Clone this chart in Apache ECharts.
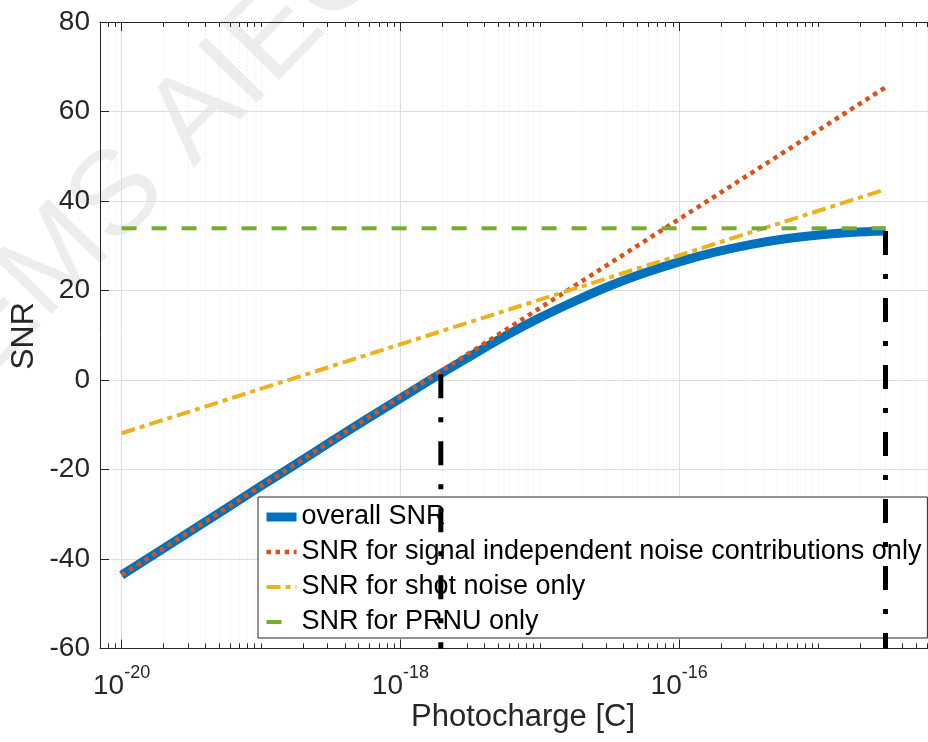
<!DOCTYPE html>
<html>
<head>
<meta charset="utf-8">
<script src="https://cdn.jsdelivr.net/npm/echarts@6/dist/echarts.min.js"></script>
<style>
  html, body { margin: 0; padding: 0; background: #fff; }
  #chart { width: 928px; height: 742px; }
</style>
</head>
<body>
<div id="chart"></div>
<script>
// photocharge is kept as log10 of the charge in coulombs
const logCharge = [-20, -19.5, -19, -18.75, -18.5, -18.25, -18, -17.75, -17.5, -17.25, -17,
  -16.75, -16.5, -16.25, -16, -15.75, -15.5, -15.25, -15, -14.75, -14.52];
const snrOverall = [-43.6, -33.7, -23.7, -18.8, -13.8, -8.9, -4.1, 0.7, 5.3, 9.8, 13.9,
  17.6, 21.0, 23.9, 26.4, 28.5, 30.2, 31.5, 32.4, 33.0, 33.3];

const lineCharge = [-20, -14.52];
const snrIndependent = [-43.6, 65.4];
const snrShot = [-11.9, 42.6];
const snrPrnu = [33.9, 33.9];

// black dash-dot markers (vertical lines)
const markerCharge = [-17.71, -14.52];
const markerTop = [1.3, 33.3];
const markerBottom = -60;

const seriesNames = [
  'overall SNR',
  'SNR for signal independent noise contributions only',
  'SNR for shot noise only',
  'SNR for PRNU only'
];

const majorExp = [-20, -18, -16];
const mantissas = [2, 3, 4, 5, 6, 7, 8, 9];
const yTicks = [-60, -40, -20, 0, 20, 40, 60, 80];

const xMin = -20.155, xMax = -14;
const FONT = '"Liberation Sans", Arial, Helvetica, sans-serif';
const AX = '#262626';

const minorExp = [];
for (let d = -21; d <= -15; d++) {
  if (d % 2 !== 0 && d > xMin) minorExp.push(d);
  mantissas.forEach(m => {
    const v = d + Math.log10(m);
    if (v > xMin && v < xMax) minorExp.push(v);
  });
}

const pairs = (xs, ys) => xs.map((x, i) => [x, ys[i]]);

function xAxisDef(pos, ticks, len, withLabel, split) {
  return {
    type: 'value', min: xMin, max: xMax, position: pos,
    axisLine: { show: len > 6, onZero: false, lineStyle: { color: AX, width: 1 } },
    axisTick: { show: true, inside: true, length: len, customValues: ticks, lineStyle: { color: AX } },
    axisLabel: withLabel ? {
      customValues: ticks, margin: 16, color: AX,
      formatter: v => '{b|10}{s|' + v + '}',
      rich: {
        b: { fontSize: 28, fontFamily: FONT, color: AX, lineHeight: 36, verticalAlign: 'bottom' },
        s: { fontSize: 18, fontFamily: FONT, color: AX, lineHeight: 18, verticalAlign: 'top' }
      }
    } : { show: false },
    splitLine: split || { show: false }
  };
}

const chart = echarts.init(document.getElementById('chart'));

const markerSeries = markerCharge.map((x, i) => ({
  type: 'line', name: 'marker' + i, z: 6,
  data: [[x, markerTop[i]], [x, markerBottom]],
  showSymbol: false, symbol: 'none',
  lineStyle: { color: '#000', width: 5, type: [24, 19, 5, 19] }
}));

const noSymbol = { opacity: 0 };

chart.setOption({
  animation: false,
  backgroundColor: '#fff',
  grid: { left: 100, top: 22, right: -30, bottom: 93.5, show: false, outerBoundsMode: 'none', containLabel: false },
  xAxis: [
    xAxisDef('bottom', majorExp, 9, true, { show: true, lineStyle: { color: '#dedede', width: 1 } }),
    xAxisDef('bottom', minorExp, 5, false, { show: true, lineStyle: { color: '#e2e2e2', width: 1, type: [1, 3] } }),
    xAxisDef('top', majorExp, 9, false),
    xAxisDef('top', minorExp, 5, false)
  ],
  yAxis: {
    type: 'value', min: yTicks[0], max: yTicks[yTicks.length - 1], interval: 20,
    position: 'left',
    axisLine: { show: true, onZero: false, lineStyle: { color: AX, width: 1 } },
    axisTick: { show: true, inside: true, length: 9, lineStyle: { color: AX } },
    axisLabel: { fontSize: 28, fontFamily: FONT, color: AX, margin: 10 },
    splitLine: { show: true, lineStyle: { color: '#dedede', width: 1 } }
  },
  legend: {
    orient: 'vertical', left: 258, top: 497,
    padding: [5, 6, 1, 4], itemGap: 5, itemWidth: 30, itemHeight: 2,
    backgroundColor: '#fff', borderColor: AX, borderWidth: 1,
    selectedMode: false,
    textStyle: { fontSize: 27, lineHeight: 30, color: '#000', fontFamily: FONT },
    data: [
      { name: seriesNames[0], lineStyle: { width: 9 }, itemStyle: noSymbol },
      { name: seriesNames[1], lineStyle: { width: 4.5 }, itemStyle: noSymbol },
      { name: seriesNames[2], lineStyle: { width: 4 }, itemStyle: noSymbol },
      { name: seriesNames[3], lineStyle: { width: 4 }, itemStyle: noSymbol }
    ]
  },
  graphic: [
    {
      type: 'text', x: 165, y: 150, rotation: 0.8, z: -10, silent: true,
      style: { text: 'EMS AIEC', font: '120px ' + FONT, fill: 'rgba(0,0,0,0.07)',
        textAlign: 'center', textVerticalAlign: 'middle' }
    },
    {
      type: 'text', x: 523, y: 717,
      style: { text: 'Photocharge [C]', font: '31px ' + FONT, fill: AX,
        textAlign: 'center', textVerticalAlign: 'middle' }
    },
    {
      type: 'text', x: 24, y: 336, rotation: Math.PI / 2,
      style: { text: 'SNR', font: '32px ' + FONT, fill: AX,
        textAlign: 'center', textVerticalAlign: 'middle' }
    }
  ],
  series: [
    {
      type: 'line', name: seriesNames[0], data: pairs(logCharge, snrOverall),
      smooth: 0.3, showSymbol: false, symbol: 'none',
      lineStyle: { color: '#0072BD', width: 9 }, itemStyle: { color: '#0072BD' }
    },
    {
      type: 'line', name: seriesNames[1], data: pairs(lineCharge, snrIndependent),
      showSymbol: false, symbol: 'none',
      lineStyle: { color: '#D95319', width: 4.5, type: [4.5, 4.6] }, itemStyle: { color: '#D95319' }
    },
    {
      type: 'line', name: seriesNames[2], data: pairs(lineCharge, snrShot),
      showSymbol: false, symbol: 'none',
      lineStyle: { color: '#EDB120', width: 4, type: [14, 5, 5, 5] }, itemStyle: { color: '#EDB120' }
    },
    {
      type: 'line', name: seriesNames[3], data: pairs(lineCharge, snrPrnu),
      showSymbol: false, symbol: 'none',
      lineStyle: { color: '#77AC30', width: 4, type: [15, 15] }, itemStyle: { color: '#77AC30' }
    },
    ...markerSeries
  ]
});
</script>
</body>
</html>
